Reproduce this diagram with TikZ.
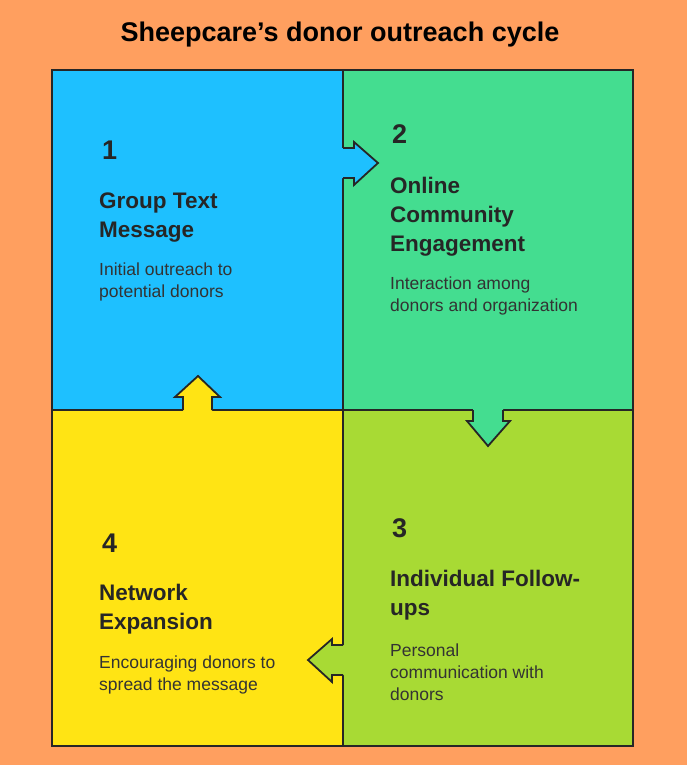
\documentclass[tikz,border=0pt]{standalone}
\usepackage{fontspec}
\setmainfont{Liberation Sans}
\begin{document}
\begin{tikzpicture}[x=1pt,y=-1pt,
  ol/.style={draw=black!85,line width=1.8pt,line join=miter},
  num/.style={anchor=base west,inner sep=0,font=\fontsize{27}{30}\selectfont\bfseries,text=black!85},
  head/.style={anchor=base west,inner sep=0,align=left,font=\fontsize{22.5}{29}\selectfont\bfseries,text=black!85},
  body/.style={anchor=base west,inner sep=0,align=left,font=\fontsize{17.5}{22}\selectfont,text=black!80}]
\definecolor{bg}{HTML}{FF9F5F}
\definecolor{qb}{HTML}{1EC0FF}
\definecolor{qg}{HTML}{44DD90}
\definecolor{ql}{HTML}{A8DA34}
\definecolor{qy}{HTML}{FFE414}
\fill[bg] (0,0) rectangle (687,765);
\useasboundingbox (0,0) rectangle (687,765);
\node[inner sep=0,font=\fontsize{27}{30}\selectfont\bfseries] (title) at (340,35) {Sheepcare’s donor outreach cycle};
\path[ol,fill=qb] (52,70) rectangle (343,410);
\path[ol,fill=qg] (343,70) rectangle (633,410);
\path[ol,fill=ql] (343,410) rectangle (633,746);
\path[ol,fill=qy] (52,410) rectangle (343,746);
% arrows
\fill[qb] (341,148) -- (354,148) -- (354,142) -- (378,163) -- (354,185) -- (354,178) -- (341,178) -- cycle;
\draw[ol] (343,148) -- (354,148) -- (354,142) -- (378,163) -- (354,185) -- (354,178) -- (343,178);
\fill[qg] (473,408) -- (473,421) -- (467,421) -- (488,446) -- (510,421) -- (503,421) -- (503,408) -- cycle;
\draw[ol] (473,410) -- (473,421) -- (467,421) -- (488,446) -- (510,421) -- (503,421) -- (503,410);
\fill[ql] (345,645) -- (332,645) -- (332,639) -- (308,660) -- (332,682) -- (332,675) -- (345,675) -- cycle;
\draw[ol] (343,645) -- (332,645) -- (332,639) -- (308,660) -- (332,682) -- (332,675) -- (343,675);
\fill[qy] (183,412) -- (183,397) -- (175,397) -- (198,376) -- (220,397) -- (212,397) -- (212,412) -- cycle;
\draw[ol] (183,410) -- (183,397) -- (175,397) -- (198,376) -- (220,397) -- (212,397) -- (212,410);
% texts (anchor = baseline of last line)
\node[num] (n1) at (102,159) {1};
\node[head] (h1) at (99,237) {Group Text\\Message};
\node[body] (b1) at (99,297) {Initial outreach to\\potential donors};
\node[num] (n2) at (392,143) {2};
\node[head] (h2) at (390,251) {Online\\Community\\Engagement};
\node[body] (b2) at (390,311) {Interaction among\\donors and organization};
\node[num] (n3) at (392,537) {3};
\node[head] (h3) at (390,615) {Individual Follow-\\ups};
\node[body] (b3) at (390,700) {Personal\\communication with\\donors};
\node[num] (n4) at (102,552) {4};
\node[head] (h4) at (99,629) {Network\\Expansion};
\node[body] (b4) at (99,690) {Encouraging donors to\\spread the message};
\end{tikzpicture}
\end{document}
